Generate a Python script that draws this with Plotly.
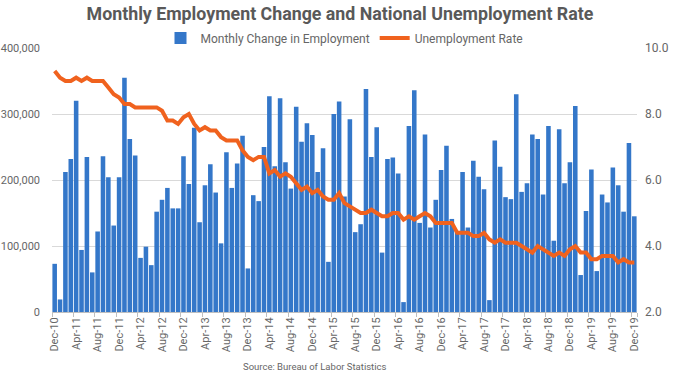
import pandas as pd
import plotly.graph_objects as go

months = list(pd.date_range("2010-12-01", periods=109, freq="MS").strftime("%b-%y"))

# Monthly change in employment (thousands)
jobs_k = [
    73,
    19, 212, 232, 320, 94, 235, 60, 122, 236, 204, 131, 204,
    355, 262, 237, 82, 99, 71, 152, 170, 188, 157, 157, 236,
    194, 279, 136, 192, 224, 181, 104, 242, 188, 225, 267, 66,
    177, 168, 250, 327, 221, 324, 227, 187, 311, 258, 286, 268,
    212, 248, 76, 300, 319, 175, 292, 121, 133, 338, 235, 280,
    90, 232, 234, 210, 15, 282, 336, 135, 269, 128, 170, 215,
    252, 141, 121, 212, 128, 229, 205, 186, 18, 260, 220, 174,
    171, 330, 182, 195, 269, 262, 178, 282, 108, 277, 195, 227,
    312, 56, 153, 216, 62, 178, 166, 219, 192, 152, 256, 145,
]
jobs = [v * 1000 for v in jobs_k]

# National unemployment rate (%)
unemp = [
    9.3,
    9.1, 9.0, 9.0, 9.1, 9.0, 9.1, 9.0, 9.0, 9.0, 8.8, 8.6, 8.5,
    8.3, 8.3, 8.2, 8.2, 8.2, 8.2, 8.2, 8.1, 7.8, 7.8, 7.7, 7.9,
    8.0, 7.7, 7.5, 7.6, 7.5, 7.5, 7.3, 7.2, 7.2, 7.2, 6.9, 6.7,
    6.6, 6.7, 6.7, 6.2, 6.3, 6.1, 6.2, 6.1, 5.9, 5.7, 5.8, 5.6,
    5.7, 5.5, 5.4, 5.4, 5.6, 5.3, 5.2, 5.1, 5.0, 5.0, 5.1, 5.0,
    4.9, 4.9, 5.0, 5.0, 4.8, 4.9, 4.8, 4.9, 5.0, 4.9, 4.7, 4.7,
    4.7, 4.7, 4.4, 4.4, 4.4, 4.3, 4.3, 4.4, 4.2, 4.1, 4.2, 4.1,
    4.1, 4.1, 4.0, 3.9, 3.8, 4.0, 3.9, 3.8, 3.7, 3.8, 3.7, 3.9,
    4.0, 3.8, 3.8, 3.6, 3.6, 3.7, 3.7, 3.7, 3.5, 3.6, 3.5, 3.5,
]

tick_labels = months[::4]
left_ticks = [0, 100000, 200000, 300000, 400000]
right_ticks = [2, 4, 6, 8, 10]

BLUE = "#3477c9"
ORANGE = "#f0621e"
GRAY = "#666666"

W, H = 680, 373
ML, MR, MT, MB = 52, 43, 48, 61
PW = W - ML - MR
PH = H - MT - MB

fig = go.Figure()
fig.add_trace(go.Bar(x=months, y=jobs, name="Monthly Change in Employment",
                     marker=dict(color=BLUE, line=dict(width=0))))
fig.add_trace(go.Scatter(x=months, y=unemp, name="Unemployment Rate", yaxis="y2",
                         mode="lines", line=dict(color=ORANGE, width=4)))

fig.update_layout(
    width=W, height=H,
    margin=dict(l=ML, r=MR, t=MT, b=MB, autoexpand=False),
    paper_bgcolor="white", plot_bgcolor="white",
    bargap=0.15,
    font=dict(family="Roboto, sans-serif", color=GRAY, size=11),
    title=dict(text="<b>Monthly Employment Change and National Unemployment Rate</b>",
               x=0.5, xanchor="center", y=1 - 14 / H, yanchor="middle",
               font=dict(family="Roboto, sans-serif", size=17.8, color="#595959")),
    legend=dict(orientation="h", x=0.5, xanchor="center", y=1 + 10 / PH, yanchor="middle",
                font=dict(size=12, color=GRAY), bgcolor="rgba(0,0,0,0)",
                itemwidth=30, tracegroupgap=0),
    showlegend=True,
    xaxis=dict(type="category", tickmode="array", tickvals=tick_labels, ticktext=tick_labels,
               tickangle=-90, tickfont=dict(size=11, color=GRAY),
               ticks="outside", ticklen=4, tickcolor="#bfbfbf", tickson="boundaries",
               showline=True, linecolor="#bfbfbf", linewidth=1, automargin=False,
               showgrid=False, range=[-0.5, 108.5]),
    yaxis=dict(range=[0, 400000], tickvals=left_ticks, tickformat=",d", automargin=False,
               showgrid=True, gridcolor="#d9d9d9", gridwidth=1, zeroline=False,
               tickfont=dict(size=11, color=GRAY), ticks="", ticklabelstandoff=11),
    yaxis2=dict(range=[2, 10], tickvals=right_ticks, overlaying="y", side="right",
                tickformat=".1f", ticksuffix="%", showgrid=False, zeroline=False, automargin=False,
                tickfont=dict(size=12, color=GRAY), ticklabelstandoff=7),
    annotations=[dict(text="Source: Bureau of Labor Statistics", x=(314 - ML) / PW, xref="paper",
                      xanchor="center",
                      y=-(366 - (H - MB)) / PH, yref="paper", yanchor="middle",
                      showarrow=False, font=dict(size=9.5, color=GRAY))],
)

fig.write_html("out.html", config={"displayModeBar": False},
               post_script="document.body.style.margin='0';")
